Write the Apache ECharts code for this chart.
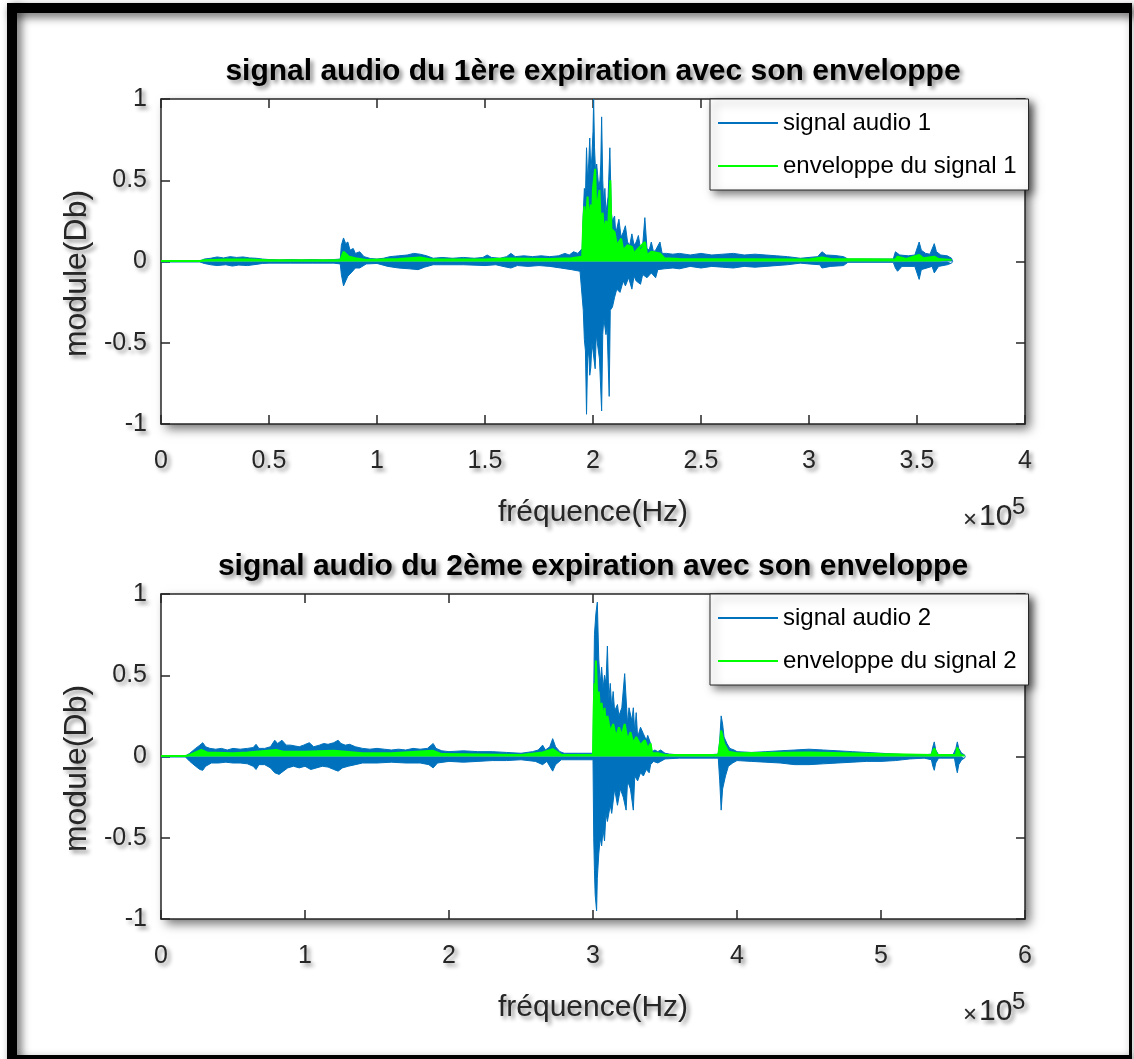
<!DOCTYPE html>
<html>
<head>
<meta charset="utf-8">
<script src="https://cdn.jsdelivr.net/npm/echarts@6/dist/echarts.min.js"></script>
<style>
html,body{margin:0;padding:0;background:#fff;}
#chart{width:1134px;height:1059px;}
</style>
</head>
<body>
<div id="chart"></div>
<script>
// ---------- DATA (x in units of 10^5 Hz, y = module) ----------
const titles = ['signal audio du 1ère expiration avec son enveloppe', 'signal audio du 2ème expiration avec son enveloppe'];
const signalNames = ['signal audio 1', 'signal audio 2'];
const envNames = ['enveloppe du signal 1', 'enveloppe du signal 2'];
const xTicks1 = [0, 0.5, 1, 1.5, 2, 2.5, 3, 3.5, 4];
const xTicks2 = [0, 1, 2, 3, 4, 5, 6];
const yTicks = [-1, -0.5, 0, 0.5, 1];

// plot 1 : upper / lower excursions of the audio signal
const sig1Upper = [[0,0.003],[0.18,0.003],[0.2,0.015],[0.23,0.02],[0.26,0.028],[0.29,0.022],[0.32,0.03],[0.35,0.025],[0.38,0.028],[0.41,0.022],[0.44,0.02],[0.47,0.015],[0.5,0.012],[0.55,0.01],[0.6,0.012],[0.65,0.01],[0.7,0.012],[0.75,0.01],[0.8,0.012],[0.83,0.015],[0.835,0.1],[0.845,0.145],[0.855,0.11],[0.865,0.12],[0.875,0.07],[0.89,0.08],[0.9,0.05],[0.92,0.06],[0.94,0.03],[0.97,0.018],[1.0,0.015],[1.03,0.02],[1.06,0.03],[1.1,0.035],[1.14,0.04],[1.17,0.05],[1.2,0.045],[1.23,0.035],[1.26,0.02],[1.3,0.025],[1.35,0.02],[1.4,0.025],[1.45,0.02],[1.49,0.025],[1.51,0.04],[1.53,0.025],[1.57,0.02],[1.6,0.03],[1.62,0.05],[1.64,0.03],[1.68,0.035],[1.72,0.03],[1.76,0.035],[1.8,0.03],[1.84,0.035],[1.87,0.05],[1.89,0.04],[1.91,0.06],[1.93,0.05],[1.95,0.08],[1.955,0.3],[1.96,0.45],[1.965,0.4],[1.97,0.70],[1.975,0.5],[1.98,0.6],[1.985,0.76],[1.99,0.55],[1.995,0.65],[2.0,0.8],[2.003,1.0],[2.007,0.7],[2.012,0.55],[2.017,0.6],[2.022,0.6],[2.027,0.45],[2.032,0.5],[2.036,0.6],[2.04,0.89],[2.045,0.5],[2.05,0.35],[2.055,0.45],[2.06,0.3],[2.065,0.35],[2.07,0.4],[2.078,0.70],[2.085,0.3],[2.09,0.25],[2.1,0.28],[2.105,0.18],[2.11,0.2],[2.12,0.26],[2.13,0.15],[2.14,0.18],[2.15,0.22],[2.16,0.12],[2.17,0.1],[2.18,0.17],[2.19,0.1],[2.2,0.12],[2.21,0.16],[2.22,0.08],[2.23,0.1],[2.24,0.27],[2.25,0.08],[2.26,0.07],[2.27,0.12],[2.28,0.06],[2.29,0.07],[2.31,0.12],[2.32,0.05],[2.34,0.05],[2.37,0.045],[2.4,0.05],[2.45,0.04],[2.5,0.05],[2.55,0.04],[2.6,0.045],[2.65,0.05],[2.7,0.04],[2.75,0.045],[2.8,0.04],[2.85,0.035],[2.9,0.03],[2.96,0.02],[3.0,0.025],[3.04,0.03],[3.06,0.06],[3.08,0.04],[3.12,0.037],[3.16,0.03],[3.18,0.015],[3.39,0.015],[3.4,0.06],[3.42,0.04],[3.46,0.035],[3.49,0.04],[3.51,0.12],[3.52,0.07],[3.54,0.05],[3.56,0.045],[3.58,0.11],[3.59,0.06],[3.61,0.04],[3.64,0.035],[3.66,0.02],[3.665,0]];
const sig1Lower = [[0,-0.003],[0.18,-0.003],[0.2,-0.012],[0.23,-0.02],[0.26,-0.025],[0.3,-0.02],[0.33,-0.028],[0.36,-0.022],[0.4,-0.025],[0.44,-0.018],[0.47,-0.012],[0.5,-0.01],[0.6,-0.01],[0.7,-0.01],[0.8,-0.01],[0.83,-0.015],[0.835,-0.08],[0.845,-0.15],[0.855,-0.12],[0.865,-0.09],[0.88,-0.07],[0.9,-0.04],[0.92,-0.04],[0.95,-0.015],[1.0,-0.012],[1.05,-0.03],[1.1,-0.04],[1.15,-0.045],[1.19,-0.05],[1.22,-0.035],[1.26,-0.02],[1.3,-0.02],[1.4,-0.02],[1.5,-0.025],[1.55,-0.02],[1.6,-0.035],[1.62,-0.04],[1.65,-0.025],[1.7,-0.03],[1.75,-0.025],[1.8,-0.03],[1.85,-0.04],[1.9,-0.05],[1.94,-0.06],[1.955,-0.3],[1.96,-0.48],[1.965,-0.55],[1.97,-0.94],[1.975,-0.6],[1.98,-0.55],[1.985,-0.7],[1.99,-0.65],[1.995,-0.5],[2.0,-0.55],[2.01,-0.66],[2.015,-0.45],[2.02,-0.5],[2.03,-0.6],[2.04,-0.92],[2.045,-0.45],[2.05,-0.35],[2.06,-0.45],[2.065,-0.4],[2.075,-0.83],[2.08,-0.3],[2.09,-0.28],[2.1,-0.22],[2.11,-0.17],[2.125,-0.19],[2.14,-0.12],[2.15,-0.15],[2.165,-0.1],[2.18,-0.17],[2.19,-0.09],[2.2,-0.12],[2.22,-0.14],[2.23,-0.08],[2.25,-0.1],[2.27,-0.07],[2.29,-0.1],[2.3,-0.05],[2.33,-0.045],[2.37,-0.04],[2.4,-0.045],[2.45,-0.03],[2.5,-0.04],[2.55,-0.03],[2.6,-0.035],[2.65,-0.04],[2.7,-0.03],[2.75,-0.035],[2.8,-0.03],[2.9,-0.02],[2.96,-0.01],[3.0,-0.015],[3.05,-0.02],[3.06,-0.04],[3.1,-0.03],[3.16,-0.025],[3.18,-0.005],[3.39,-0.005],[3.4,-0.04],[3.41,-0.06],[3.43,-0.03],[3.49,-0.03],[3.51,-0.11],[3.52,-0.05],[3.57,-0.03],[3.58,-0.07],[3.6,-0.03],[3.64,-0.02],[3.66,-0.01],[3.665,0]];
const env1 = [[0,0.003],[0.18,0.003],[0.2,0.008],[0.3,0.012],[0.4,0.012],[0.5,0.008],[0.83,0.008],[0.845,0.06],[0.87,0.03],[0.9,0.02],[0.95,0.01],[1.1,0.015],[1.2,0.025],[1.25,0.012],[1.5,0.012],[1.6,0.018],[1.8,0.015],[1.9,0.02],[1.95,0.03],[1.955,0.25],[1.96,0.34],[1.965,0.2],[1.975,0.4],[1.98,0.25],[1.99,0.35],[1.995,0.2],[2.0,0.45],[2.01,0.57],[2.015,0.3],[2.02,0.35],[2.03,0.44],[2.035,0.25],[2.045,0.3],[2.05,0.18],[2.06,0.25],[2.07,0.2],[2.08,0.5],[2.085,0.2],[2.1,0.18],[2.11,0.1],[2.13,0.14],[2.14,0.07],[2.16,0.1],[2.18,0.09],[2.19,0.05],[2.21,0.08],[2.24,0.12],[2.25,0.04],[2.27,0.06],[2.31,0.05],[2.33,0.02],[2.4,0.015],[3.0,0.012],[3.06,0.025],[3.1,0.015],[3.4,0.012],[3.41,0.03],[3.45,0.015],[3.51,0.04],[3.53,0.02],[3.58,0.03],[3.6,0.015],[3.66,0.01]];

// plot 2
const sig2Upper = [[0,0.003],[0.17,0.003],[0.2,0.02],[0.24,0.05],[0.27,0.07],[0.29,0.085],[0.31,0.06],[0.34,0.05],[0.38,0.045],[0.42,0.05],[0.46,0.04],[0.5,0.05],[0.55,0.045],[0.6,0.05],[0.64,0.055],[0.66,0.075],[0.68,0.05],[0.72,0.05],[0.76,0.06],[0.79,0.1],[0.81,0.08],[0.84,0.1],[0.87,0.07],[0.9,0.07],[0.93,0.065],[0.96,0.06],[0.99,0.07],[1.03,0.085],[1.06,0.06],[1.1,0.07],[1.13,0.08],[1.16,0.075],[1.2,0.085],[1.23,0.1],[1.25,0.08],[1.28,0.07],[1.31,0.075],[1.35,0.06],[1.4,0.05],[1.45,0.045],[1.5,0.05],[1.55,0.045],[1.6,0.04],[1.65,0.045],[1.7,0.04],[1.75,0.05],[1.8,0.045],[1.85,0.05],[1.89,0.08],[1.91,0.05],[1.95,0.035],[2.0,0.03],[2.1,0.035],[2.2,0.03],[2.3,0.03],[2.4,0.025],[2.5,0.02],[2.58,0.03],[2.62,0.04],[2.65,0.07],[2.67,0.04],[2.7,0.06],[2.72,0.11],[2.74,0.06],[2.77,0.03],[2.8,0.02],[2.9,0.02],[3.0,0.02],[3.005,0.4],[3.01,0.75],[3.02,0.88],[3.03,0.95],[3.04,0.6],[3.05,0.45],[3.06,0.55],[3.07,0.42],[3.08,0.5],[3.09,0.45],[3.1,0.68],[3.11,0.35],[3.12,0.45],[3.13,0.3],[3.14,0.4],[3.15,0.28],[3.17,0.32],[3.18,0.25],[3.2,0.3],[3.22,0.51],[3.24,0.2],[3.25,0.3],[3.27,0.22],[3.28,0.3],[3.29,0.15],[3.3,0.27],[3.31,0.12],[3.33,0.18],[3.35,0.14],[3.37,0.1],[3.38,0.13],[3.4,0.08],[3.41,0.03],[3.43,0.04],[3.45,0.03],[3.47,0.04],[3.5,0.02],[3.53,0.015],[3.6,0.01],[3.7,0.01],[3.8,0.01],[3.87,0.015],[3.88,0.1],[3.89,0.25],[3.9,0.2],[3.91,0.12],[3.93,0.08],[3.95,0.05],[3.98,0.04],[4.0,0.03],[4.1,0.025],[4.2,0.03],[4.3,0.035],[4.4,0.04],[4.5,0.045],[4.6,0.04],[4.7,0.035],[4.8,0.03],[4.9,0.025],[5.0,0.02],[5.1,0.015],[5.2,0.01],[5.3,0.01],[5.35,0.015],[5.36,0.06],[5.37,0.09],[5.38,0.04],[5.4,0.01],[5.5,0.01],[5.52,0.05],[5.53,0.09],[5.54,0.05],[5.56,0.02],[5.58,0.01],[5.585,0]];
const sig2Lower = [[0,-0.003],[0.17,-0.003],[0.2,-0.03],[0.24,-0.06],[0.27,-0.08],[0.29,-0.085],[0.31,-0.06],[0.35,-0.04],[0.4,-0.04],[0.45,-0.035],[0.5,-0.04],[0.55,-0.04],[0.6,-0.045],[0.64,-0.06],[0.66,-0.08],[0.68,-0.05],[0.72,-0.05],[0.76,-0.07],[0.79,-0.1],[0.82,-0.11],[0.85,-0.09],[0.88,-0.07],[0.92,-0.06],[0.96,-0.07],[1.0,-0.06],[1.04,-0.08],[1.08,-0.07],[1.12,-0.06],[1.16,-0.065],[1.2,-0.08],[1.23,-0.09],[1.26,-0.07],[1.3,-0.06],[1.35,-0.05],[1.4,-0.04],[1.5,-0.04],[1.6,-0.035],[1.7,-0.04],[1.8,-0.04],[1.86,-0.05],[1.89,-0.07],[1.92,-0.04],[2.0,-0.03],[2.1,-0.035],[2.2,-0.03],[2.3,-0.025],[2.4,-0.025],[2.5,-0.02],[2.6,-0.03],[2.65,-0.05],[2.68,-0.03],[2.72,-0.09],[2.74,-0.05],[2.78,-0.02],[2.9,-0.02],[3.0,-0.02],[3.005,-0.5],[3.01,-0.7],[3.015,-0.85],[3.025,-0.95],[3.03,-0.75],[3.04,-0.6],[3.05,-0.5],[3.06,-0.55],[3.07,-0.45],[3.08,-0.52],[3.09,-0.35],[3.1,-0.4],[3.12,-0.3],[3.13,-0.35],[3.15,-0.2],[3.17,-0.3],[3.19,-0.2],[3.21,-0.25],[3.23,-0.33],[3.24,-0.15],[3.26,-0.2],[3.28,-0.33],[3.29,-0.12],[3.31,-0.15],[3.33,-0.1],[3.35,-0.12],[3.37,-0.08],[3.39,-0.1],[3.4,-0.05],[3.42,-0.03],[3.45,-0.04],[3.47,-0.03],[3.5,-0.015],[3.6,-0.01],[3.87,-0.01],[3.88,-0.15],[3.89,-0.33],[3.9,-0.2],[3.92,-0.12],[3.94,-0.06],[3.97,-0.04],[4.0,-0.025],[4.1,-0.03],[4.2,-0.035],[4.3,-0.04],[4.4,-0.05],[4.5,-0.05],[4.6,-0.045],[4.7,-0.04],[4.8,-0.035],[4.9,-0.03],[5.0,-0.03],[5.1,-0.025],[5.2,-0.015],[5.3,-0.01],[5.35,-0.02],[5.36,-0.06],[5.37,-0.085],[5.38,-0.04],[5.4,-0.01],[5.51,-0.01],[5.52,-0.06],[5.53,-0.1],[5.54,-0.05],[5.56,-0.02],[5.58,-0.01],[5.585,0]];
const env2 = [[0,0.003],[0.17,0.003],[0.2,0.01],[0.28,0.04],[0.32,0.025],[0.5,0.02],[0.6,0.025],[0.8,0.04],[0.85,0.03],[1.0,0.03],[1.2,0.035],[1.4,0.02],[1.6,0.02],[1.89,0.035],[1.95,0.015],[2.5,0.01],[2.65,0.025],[2.72,0.045],[2.78,0.01],[3.0,0.01],[3.005,0.3],[3.01,0.45],[3.015,0.3],[3.02,0.59],[3.03,0.35],[3.04,0.4],[3.05,0.25],[3.06,0.33],[3.07,0.2],[3.08,0.3],[3.09,0.18],[3.1,0.25],[3.12,0.15],[3.14,0.2],[3.16,0.12],[3.18,0.18],[3.2,0.13],[3.22,0.2],[3.24,0.1],[3.26,0.15],[3.28,0.08],[3.3,0.12],[3.33,0.07],[3.36,0.1],[3.38,0.05],[3.4,0.08],[3.41,0.02],[3.45,0.02],[3.5,0.01],[3.87,0.01],[3.885,0.1],[3.89,0.16],[3.91,0.08],[3.94,0.03],[4.0,0.02],[4.5,0.025],[5.0,0.015],[5.35,0.01],[5.37,0.05],[5.39,0.01],[5.52,0.01],[5.53,0.055],[5.55,0.01],[5.58,0.005]];

// ---------- STYLE ----------
const BLUE = '#0072BD', GREEN = '#00FF00', AX = '#262626';
const FONT = '"Liberation Sans", Arial, Helvetica, sans-serif';
const shadowTxt = {textShadowColor:'rgba(0,0,0,0.45)', textShadowBlur:4, textShadowOffsetX:3, textShadowOffsetY:3};
const grids = [
  {left:161, top:99, width:864, height:325},
  {left:161, top:594, width:864, height:325}
];
const xTickSets = [xTicks1, xTicks2];

const option = {
  animation:false,
  backgroundColor:'#fff',
  title: titles.map((t,i)=>({
    text:t, left:593, textAlign:'center', top: grids[i].top - 42, padding:0,
    textStyle:Object.assign({fontFamily:FONT, fontWeight:'bold', fontSize:30, color:'#000'}, shadowTxt)
  })),
  grid: grids.map(g=>Object.assign({}, g, {show:true, backgroundColor:'#fff', borderWidth:0,
    shadowColor:'rgba(0,0,0,0.55)', shadowBlur:10, shadowOffsetX:5, shadowOffsetY:5})),
  legend: [0,1].map(i=>({
    orient:'vertical', left:710, top:grids[i].top, padding:[12,12,12,8], itemGap:19,
    itemWidth:60, itemHeight:2, backgroundColor:'#fff', borderColor:AX, borderWidth:1,
    shadowColor:'rgba(0,0,0,0.5)', shadowBlur:8, shadowOffsetX:4, shadowOffsetY:4,
    textStyle:{fontFamily:FONT, fontSize:24, color:'#000', lineHeight:24},
    data:[{name:signalNames[i], icon:'rect'}, {name:envNames[i], icon:'rect'}],
    selectedMode:false
  })),
  xAxis: [],
  yAxis: [],
  series: [],
  graphic: []
};

[0,1].forEach(i=>{
  const tk = xTickSets[i];
  const xmin = tk[0], xmax = tk[tk.length-1], xint = tk[1]-tk[0];
  const common = {type:'value', gridIndex:i, min:xmin, max:xmax, interval:xint,
    axisLine:{show:true, onZero:false, lineStyle:{color:AX, width:1.5}},
    axisTick:{show:true, inside:true, length:9, lineStyle:{color:AX, width:1.5}},
    splitLine:{show:false}};
  option.xAxis.push(Object.assign({}, common, {position:'bottom',
    name:'fréquence(Hz)', nameLocation:'middle', nameGap:74,
    nameTextStyle:Object.assign({fontFamily:FONT, fontSize:30, color:AX}, shadowTxt),
    axisLabel:Object.assign({fontFamily:FONT, fontSize:25, color:AX, margin:25}, shadowTxt)}));
  option.xAxis.push(Object.assign({}, common, {position:'top', axisLabel:{show:false}}));
  const ycommon = {type:'value', gridIndex:i, min:yTicks[0], max:yTicks[yTicks.length-1], interval:yTicks[1]-yTicks[0],
    axisLine:{show:true, onZero:false, lineStyle:{color:AX, width:1.5}},
    axisTick:{show:true, inside:true, length:9, lineStyle:{color:AX, width:1.5}},
    splitLine:{show:false}};
  option.yAxis.push(Object.assign({}, ycommon, {position:'left',
    name:'module(Db)', nameLocation:'middle', nameGap:54,
    nameTextStyle:Object.assign({fontFamily:FONT, fontSize:32, color:AX, padding:[0,24,0,0]}, shadowTxt),
    axisLabel:Object.assign({fontFamily:FONT, fontSize:25, color:AX, margin:14}, shadowTxt)}));
  option.yAxis.push(Object.assign({}, ycommon, {position:'right', axisLabel:{show:false}}));

  const up = i===0 ? sig1Upper : sig2Upper;
  const lo = i===0 ? sig1Lower : sig2Lower;
  const en = i===0 ? env1 : env2;
  const xa = i*2, ya = i*2;
  const band = (data)=>({type:'line', name:signalNames[i], data, xAxisIndex:xa, yAxisIndex:ya,
    showSymbol:false, symbol:'none', silent:true,
    lineStyle:{color:BLUE, width:1}, itemStyle:{color:BLUE}, areaStyle:{color:BLUE, opacity:1}});
  option.series.push(band(up), band(lo));
  option.series.push({type:'line', name:envNames[i], data:en, xAxisIndex:xa, yAxisIndex:ya,
    showSymbol:false, symbol:'none', silent:true,
    lineStyle:{color:GREEN, width:2}, itemStyle:{color:GREEN}, areaStyle:{color:GREEN, opacity:1}});

  // ×10^5 exponent label
  const by = grids[i].top + grids[i].height + 104;
  const ts = {fill:AX, fontFamily:FONT, textShadowColor:'rgba(0,0,0,0.45)', textShadowBlur:4, textShadowOffsetX:3, textShadowOffsetY:3};
  option.graphic.push({type:'text', left:963, top:by-20, style:Object.assign({}, ts, {text:'×', fontSize:24})});
  option.graphic.push({type:'text', left:979, top:by-26, style:Object.assign({}, ts, {text:'10', fontSize:30})});
  option.graphic.push({type:'text', left:1012, top:by-33, style:Object.assign({}, ts, {text:'5', fontSize:24})});
});

// figure frame
const frameStyle = {fill:'#000', shadowColor:'rgba(0,0,0,0.6)', shadowBlur:10, shadowOffsetX:4, shadowOffsetY:4};
option.graphic.push(
  {type:'rect', shape:{x:7, y:3, width:1125, height:10}, style:frameStyle, z:10},
  {type:'rect', shape:{x:7, y:3, width:10, height:1056}, style:frameStyle, z:10},
  {type:'rect', shape:{x:1129, y:3, width:3, height:1056}, style:frameStyle, z:10},
  {type:'rect', shape:{x:7, y:1055, width:1125, height:4}, style:frameStyle, z:10}
);

const chart = echarts.init(document.getElementById('chart'), null, {renderer:'canvas'});
chart.setOption(option);
</script>
</body>
</html>
